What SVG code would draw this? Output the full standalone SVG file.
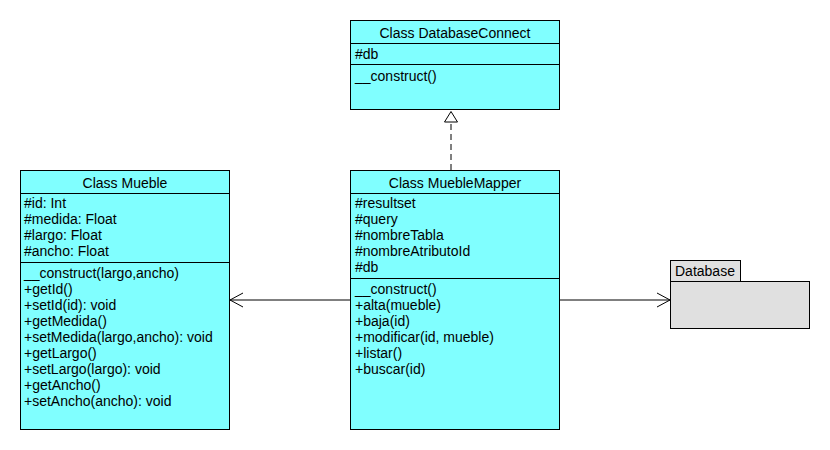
<svg xmlns="http://www.w3.org/2000/svg" width="830" height="450" viewBox="0 0 830 450">
<style>
.box{fill:#80FFFF;stroke:#000;stroke-width:1}
.sep{stroke:#000;stroke-width:1}
text{font-family:"Liberation Sans",Arial,sans-serif;font-size:14px;fill:#000}
.t{text-anchor:middle}
.pkg{fill:#E0E0E0;stroke:#000;stroke-width:1}
.ln{stroke:#000;stroke-width:1;fill:none}
</style>
<rect width="830" height="450" fill="#fff"/>
<g id="connectors">
<line class="ln" x1="451" y1="170" x2="451" y2="122" stroke-dasharray="6,4"/>
<polygon points="451,111.5 444.5,122 457.5,122" fill="#fff" stroke="#000"/>
<line class="ln" x1="350" y1="300" x2="230" y2="300"/>
<polyline class="ln" points="243,293 230,300 243,307"/>
<line class="ln" x1="559" y1="300" x2="670" y2="300"/>
<polyline class="ln" points="657,293 670,300 657,307"/>
</g>
<g id="DatabaseConnect">
<rect class="box" x="350.5" y="20.5" width="209" height="89"/>
<line class="sep" x1="350.5" y1="43.5" x2="559.5" y2="43.5"/>
<line class="sep" x1="350.5" y1="64.5" x2="559.5" y2="64.5"/>
<text class="t" x="455" y="38">Class DatabaseConnect</text>
<text x="355" y="59">#db</text>
<text x="355" y="81">__construct()</text>
</g>
<g id="Mueble">
<rect class="box" x="20.5" y="170.5" width="209" height="259"/>
<line class="sep" x1="20.5" y1="193.5" x2="229.5" y2="193.5"/>
<line class="sep" x1="20.5" y1="262.5" x2="229.5" y2="262.5"/>
<text class="t" x="125" y="188">Class Mueble</text>
<text x="24" y="208">#id: Int</text>
<text x="24" y="224">#medida: Float</text>
<text x="24" y="240">#largo: Float</text>
<text x="24" y="256">#ancho: Float</text>
<text x="24" y="278">__construct(largo,ancho)</text>
<text x="24" y="294">+getId()</text>
<text x="24" y="310">+setId(id): void</text>
<text x="24" y="326">+getMedida()</text>
<text x="24" y="342">+setMedida(largo,ancho): void</text>
<text x="24" y="358">+getLargo()</text>
<text x="24" y="374">+setLargo(largo): void</text>
<text x="24" y="390">+getAncho()</text>
<text x="24" y="406">+setAncho(ancho): void</text>
</g>
<g id="MuebleMapper">
<rect class="box" x="350.5" y="170.5" width="209" height="259"/>
<line class="sep" x1="350.5" y1="193.5" x2="559.5" y2="193.5"/>
<line class="sep" x1="350.5" y1="278.5" x2="559.5" y2="278.5"/>
<text class="t" x="455" y="188">Class MuebleMapper</text>
<text x="355" y="208">#resultset</text>
<text x="355" y="224">#query</text>
<text x="355" y="240">#nombreTabla</text>
<text x="355" y="256">#nombreAtributoId</text>
<text x="355" y="272">#db</text>
<text x="355" y="294">__construct()</text>
<text x="355" y="310">+alta(mueble)</text>
<text x="355" y="326">+baja(id)</text>
<text x="355" y="342">+modificar(id, mueble)</text>
<text x="355" y="358">+listar()</text>
<text x="355" y="374">+buscar(id)</text>
</g>
<g id="Database">
<rect class="pkg" x="670.5" y="260.5" width="70" height="21"/>
<rect class="pkg" x="670.5" y="281.5" width="139" height="47"/>
<text x="675" y="276">Database</text>
</g>
</svg>
